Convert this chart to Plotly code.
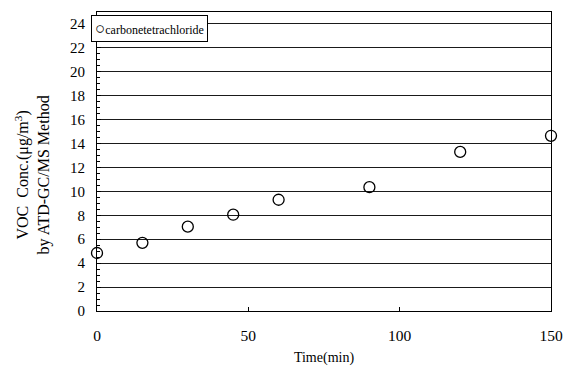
import plotly.graph_objects as go

# Sampling time (min) and measured concentration
time_min = [0, 15, 30, 45, 60, 90, 120, 150]
conc = [4.85, 5.7, 7.05, 8.05, 9.3, 10.35, 13.3, 14.65]
series_name = "carbonetetrachloride"
x_ticks = [0, 50, 100, 150]
y_ticks = list(range(0, 25, 2))

FONT = "Liberation Serif, serif"

fig = go.Figure()
fig.add_trace(go.Scatter(
    x=time_min, y=conc, mode="markers", name=series_name,
    marker=dict(symbol="circle-open", size=11, color="black",
                line=dict(width=1.3, color="black")),
    cliponaxis=False, showlegend=False,
))

# boxed key in the upper-left corner
fig.add_annotation(
    xref="paper", yref="paper", x=-0.013, y=0.99,
    xanchor="left", yanchor="top", showarrow=False,
    text="<span style='font-size:17px'>○</span>" + series_name,
    font=dict(family=FONT, size=12, color="black"),
    bordercolor="black", borderwidth=1, borderpad=3, bgcolor="white",
)

# y-axis title, sitting slightly below the axis midpoint
fig.add_annotation(
    xref="paper", yref="paper", x=-0.142, y=0.455,
    xanchor="center", yanchor="middle", showarrow=False, textangle=-90,
    text="VOC  Conc.(μg/m<sup>3</sup>)<br>by ATD-GC/MS Method",
    font=dict(family=FONT, size=16, color="black"),
)

fig.update_layout(
    width=574, height=374,
    margin=dict(l=97, r=16, t=11, b=63),
    paper_bgcolor="white", plot_bgcolor="white",
    font=dict(family=FONT, size=14, color="black"),
    showlegend=False,
    xaxis=dict(
        range=[0, 150], tickvals=x_ticks, ticks="inside", ticklen=4,
        tickcolor="black", showline=True, linecolor="black", linewidth=1,
        mirror=True, showgrid=False, zeroline=False,
        ticklabelstandoff=10,
        tickfont=dict(family=FONT, size=15.5),
        title=dict(text="Time(min)", font=dict(family=FONT, size=14), standoff=9),
    ),
    yaxis=dict(
        range=[0, 25], tickvals=y_ticks, ticks="inside", ticklen=4,
        tickcolor="black", showline=True, linecolor="black", linewidth=1,
        mirror=True, showgrid=True, gridcolor="#1a1a1a", gridwidth=1.2,
        zeroline=False, ticklabelstandoff=8,
        minor=dict(dtick=0.5, ticks="inside", ticklen=3, tickcolor="black", showgrid=False),
        tickfont=dict(family=FONT, size=15),
    ),
)

fig.write_html("out.html")
